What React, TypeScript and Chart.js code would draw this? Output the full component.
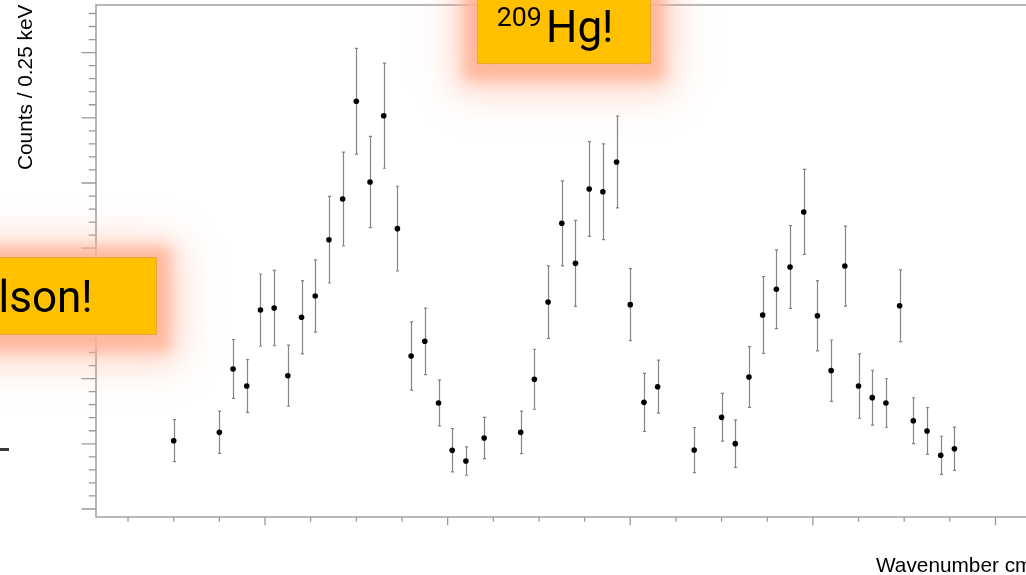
import React, { useEffect, useRef } from "react";
import { Chart, registerables } from "chart.js";

Chart.register(...registerables);

// ---- data ----
const xValues = [10, 15, 16.5, 18, 19.5, 21, 22.5, 24, 25.5, 27, 28.5, 30, 31.5, 33, 34.5, 36, 37.5, 39, 40.5, 42, 44, 48, 49.5, 51, 52.5, 54, 55.5, 57, 58.5, 60, 61.5, 63, 67, 70, 71.5, 73, 74.5, 76, 77.5, 79, 80.5, 82, 83.5, 85, 86.5, 88, 89.5, 91, 92.5, 94, 95.5];
const counts = [5.24, 5.88, 10.74, 9.43, 15.26, 15.41, 10.22, 14.7, 16.33, 20.65, 23.77, 31.27, 25.08, 30.16, 21.5, 11.73, 12.86, 8.13, 4.5, 3.68, 5.44, 5.88, 9.95, 15.87, 21.91, 18.84, 24.54, 24.33, 26.61, 15.67, 8.18, 9.38, 4.52, 7.03, 5.01, 10.12, 14.88, 16.85, 18.56, 22.78, 14.82, 10.61, 18.63, 9.43, 8.54, 8.13, 15.59, 6.77, 5.98, 4.12, 4.62];
const errors = [1.61, 1.62, 2.26, 2.02, 2.76, 2.89, 2.34, 2.81, 2.77, 3.32, 3.6, 4.05, 3.5, 4.03, 3.25, 2.62, 2.55, 1.76, 1.66, 1.09, 1.58, 1.63, 2.3, 2.78, 3.26, 3.3, 3.64, 3.67, 3.52, 2.76, 2.22, 2.03, 1.73, 1.83, 1.81, 2.33, 2.94, 3.02, 3.17, 3.26, 2.7, 2.35, 3.07, 2.47, 2.1, 1.86, 2.75, 1.76, 1.79, 1.46, 1.66];

const xTicks = [5, 10, 15, 20, 25, 30, 35, 40, 45, 50, 55, 60, 65, 70, 75, 80, 85, 90, 95, 100];
const xMajorTicks = [20, 40, 60, 80, 100];
const yTicks = [0, 1, 2, 3, 4, 5, 6, 7, 8, 9, 10, 11, 12, 13, 14, 15, 16, 17, 18, 19, 20, 21, 22, 23, 24, 25, 26, 27, 28, 29, 30, 31, 32, 33, 34, 35, 36, 37, 38];
const yMajorTicks = [0, 5, 10, 15, 20, 25, 30, 35];

const xRange = [1.49, 103.34];
const yRange = [-0.613, 38.65];

const yTitle = "Counts / 0.25 keV";
const xTitle = "Wavenumber cm⁻¹";

const axisColor = "#a3a3a3";
const tickColor = "#9a9a9a";
const errColor = "#858585";

const decorPlugin = {
  id: "decor",
  beforeDatasetsDraw(chart: any) {
    const ctx = chart.ctx;
    const xs = chart.scales.x;
    const ys = chart.scales.y;
    ctx.save();
    ctx.strokeStyle = errColor;
    ctx.lineWidth = 1.2;
    for (let i = 0; i < xValues.length; i++) {
      const px = Math.round(xs.getPixelForValue(xValues[i])) + 0.5;
      const top = ys.getPixelForValue(counts[i] + errors[i]);
      const bot = ys.getPixelForValue(counts[i] - errors[i]);
      ctx.beginPath();
      ctx.moveTo(px, top);
      ctx.lineTo(px, bot);
      ctx.moveTo(px - 1.6, top);
      ctx.lineTo(px + 1.6, top);
      ctx.moveTo(px - 1.6, bot);
      ctx.lineTo(px + 1.6, bot);
      ctx.stroke();
    }
    ctx.restore();
  },
  afterDraw(chart: any) {
    const ctx = chart.ctx;
    const xs = chart.scales.x;
    const ys = chart.scales.y;
    const a = chart.chartArea;
    ctx.save();
    ctx.strokeStyle = tickColor;
    ctx.lineWidth = 1.3;
    ctx.beginPath();
    for (const v of yTicks) {
      const py = ys.getPixelForValue(v);
      const len = yMajorTicks.includes(v) ? 14.5 : 7.3;
      ctx.moveTo(a.left, py);
      ctx.lineTo(a.left - len, py);
    }
    for (const v of xTicks) {
      const px = xs.getPixelForValue(v);
      const len = xMajorTicks.includes(v) ? 8.3 : 4.7;
      ctx.moveTo(px, a.bottom);
      ctx.lineTo(px, a.bottom + len);
    }
    ctx.stroke();
    ctx.strokeStyle = axisColor;
    ctx.lineWidth = 1.6;
    ctx.beginPath();
    ctx.moveTo(a.right + 2, a.top);
    ctx.lineTo(a.left, a.top);
    ctx.lineTo(a.left, a.bottom);
    ctx.lineTo(a.right + 2, a.bottom);
    ctx.stroke();
    ctx.restore();
  },
};

export default function App() {
  const ref = useRef<HTMLCanvasElement | null>(null);
  useEffect(() => {
    if (!ref.current) return;
    const chart = new Chart(ref.current, {
      type: "scatter",
      data: {
        datasets: [
          {
            data: xValues.map((x, i) => ({ x, y: counts[i] })),
            pointRadius: 2.8,
            pointBackgroundColor: "#000",
            pointBorderColor: "#000",
            pointBorderWidth: 0,
          },
        ],
      },
      options: {
        responsive: false,
        animation: false,
        devicePixelRatio: 1,
        layout: { autoPadding: false, padding: { left: 96, top: 5, right: 0, bottom: 58 } },
        plugins: { legend: { display: false }, tooltip: { enabled: false } },
        scales: {
          x: { type: "linear", display: false, min: xRange[0], max: xRange[1] },
          y: { type: "linear", display: false, min: yRange[0], max: yRange[1] },
        },
      },
      plugins: [decorPlugin],
    });
    return () => chart.destroy();
  }, []);

  const boxStyle: React.CSSProperties = {
    position: "absolute",
    boxSizing: "border-box",
    background: "#FFC000",
    border: "1px solid #F2A23A",
    boxShadow: "0 3px 12px 13px rgba(255, 180, 150, 0.85), 0 6px 34px 22px rgba(255, 170, 135, 0.5)",
  };

  return (
    <div
      style={{
        position: "fixed",
        left: 0,
        top: 0,
        width: 1026,
        height: 575,
        overflow: "hidden",
        background: "#fff",
      }}
    >
      <canvas ref={ref} width={1026} height={575} style={{ position: "absolute", left: 0, top: 0, width: 1026, height: 575 }} />
      <div
        style={{
          position: "absolute",
          left: 14.8,
          top: 169.5,
          transformOrigin: "left top",
          transform: "rotate(-90deg)",
          font: '20.8px "Liberation Sans", Arial, sans-serif',
          lineHeight: 1,
          whiteSpace: "nowrap",
          color: "#000",
        }}
      >
        {yTitle}
      </div>
      <div
        style={{
          position: "absolute",
          left: 876,
          top: 554.7,
          font: '20.8px "Liberation Sans", Arial, sans-serif',
          lineHeight: 1,
          whiteSpace: "nowrap",
          color: "#000",
        }}
      >
        {xTitle}
      </div>
      <div style={{ position: "absolute", left: 0, top: 447.7, width: 9, height: 3.3, background: "#3a3a3a" }} />
      <div style={{ ...boxStyle, left: 477, top: -20, width: 174, height: 84 }} />
      <div
        style={{
          position: "absolute",
          left: 496.7,
          top: 3.5,
          font: "26.7px Roboto, sans-serif",
          lineHeight: 1,
          whiteSpace: "nowrap",
          color: "#000",
        }}
      >
        209
      </div>
      <div
        style={{
          position: "absolute",
          left: 546,
          top: 4.7,
          font: "44px Roboto, sans-serif",
          lineHeight: 1,
          whiteSpace: "nowrap",
          color: "#000",
        }}
      >
        Hg!
      </div>
      <div style={{ ...boxStyle, left: -20, top: 257, width: 177.3, height: 78 }} />
      <div
        style={{
          position: "absolute",
          left: -1.5,
          top: 274.7,
          font: "44px Roboto, sans-serif",
          lineHeight: 1,
          whiteSpace: "nowrap",
          color: "#000",
        }}
      >
        lson!
      </div>
    </div>
  );
}
